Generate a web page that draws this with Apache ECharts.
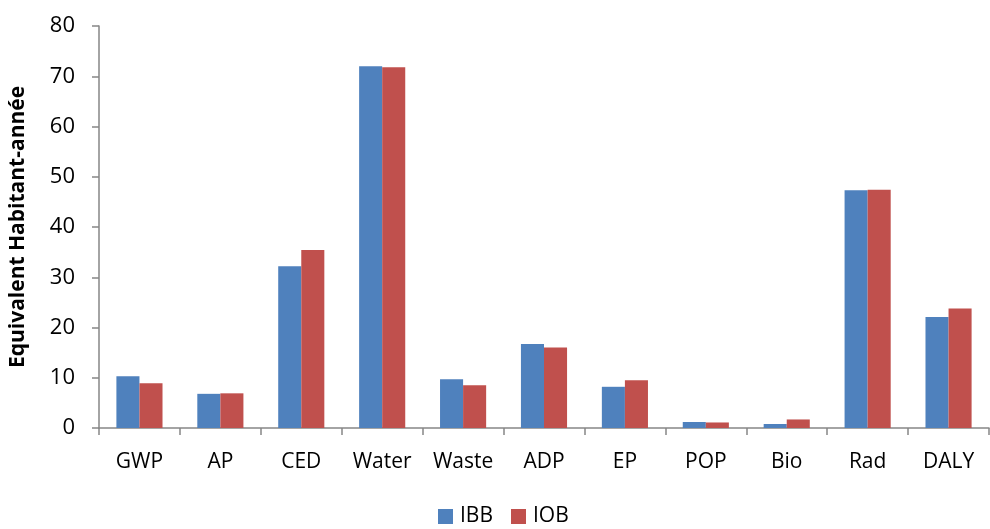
<!DOCTYPE html>
<html><head><meta charset="utf-8">
<script src="https://cdn.jsdelivr.net/npm/echarts@6/dist/echarts.min.js"></script>
<style>html,body{margin:0;padding:0;background:#fff}#c{width:990px;height:529px}</style>
</head><body><div id="c"></div>
<script>
const categories = ['GWP','AP','CED','Water','Waste','ADP','EP','POP','Bio','Rad','DALY'];
const ibb = [10.3, 6.8, 32.2, 72.0, 9.7, 16.7, 8.2, 1.2, 0.8, 47.3, 22.1];
const iob = [8.9, 6.9, 35.4, 71.8, 8.5, 16.0, 9.5, 1.1, 1.7, 47.4, 23.8];
const yTicks = [0, 10, 20, 30, 40, 50, 60, 70, 80];
const font = '"Open Sans", "Liberation Sans", sans-serif';
const chart = echarts.init(document.getElementById('c'));
chart.setOption({
  animation: false,
  textStyle: {fontFamily: font},
  grid: {left: 97, right: 1, top: 26, bottom: 101, containLabel: false},
  legend: {
    bottom: -3, left: 433, itemWidth: 15, itemHeight: 15, itemGap: 18,
    icon: 'rect',
    textStyle: {fontSize: 21, color: '#000', fontFamily: font, padding: [0,0,0,2]},
    data: ['IBB', 'IOB']
  },
  xAxis: {
    type: 'category', data: categories,
    axisLine: {lineStyle: {color: '#868686', width: 1.5}},
    axisTick: {show: true, length: 7, alignWithLabel: false, lineStyle: {color: '#868686', width: 1.5}},
    axisLabel: {fontSize: 21, color: '#000', margin: 24, fontFamily: font}
  },
  yAxis: {
    type: 'value', min: yTicks[0], max: yTicks[yTicks.length-1], interval: 10,
    name: 'Equivalent Habitant-année', nameLocation: 'middle', nameGap: 70,
    nameTextStyle: {fontSize: 21, fontWeight: 'bold', color: '#000', fontFamily: font},
    axisLine: {show: true, lineStyle: {color: '#868686', width: 1.5}},
    axisTick: {show: true, length: 7, lineStyle: {color: '#868686', width: 1.5}},
    splitLine: {show: false},
    axisLabel: {fontSize: 22, color: '#000', margin: 24, fontFamily: font}
  },
  series: [
    {name: 'IBB', type: 'bar', data: ibb, barGap: '0%', barCategoryGap: '43%',
     itemStyle: {color: '#4F81BD'}},
    {name: 'IOB', type: 'bar', data: iob, barGap: '0%', barCategoryGap: '43%',
     itemStyle: {color: '#C0504D'}}
  ]
});
</script></body></html>
